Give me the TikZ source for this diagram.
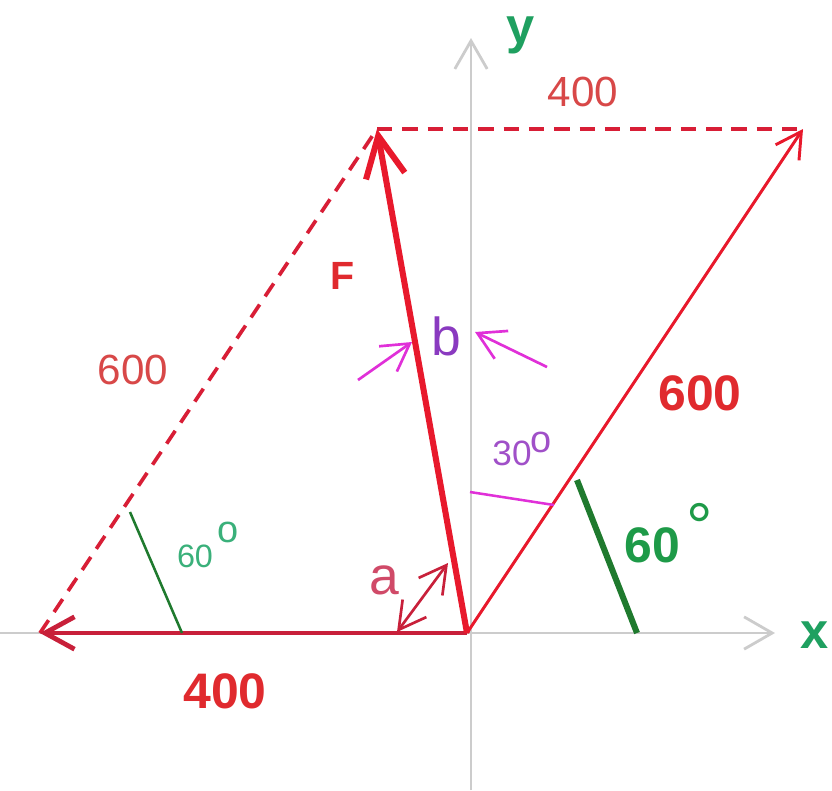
\documentclass[tikz,border=0pt]{standalone}
\usepackage{fontspec}
\setmainfont{Liberation Sans}
\usetikzlibrary{arrows.meta,positioning}
\definecolor{vecred}{HTML}{E8192C}
\definecolor{darkred}{HTML}{C8203A}
\definecolor{dashred}{HTML}{D81E36}
\definecolor{textred}{HTML}{E02A2E}
\definecolor{softred}{HTML}{D84848}
\definecolor{axisgray}{HTML}{CCCCCC}
\definecolor{axisgreen}{HTML}{1FA060}
\definecolor{lightgreen}{HTML}{3AB07A}
\definecolor{boldgreen}{HTML}{1E9A48}
\definecolor{markgreen}{HTML}{1F7A2E}
\definecolor{markmag}{HTML}{E030D8}
\definecolor{anglepurple}{HTML}{A050C8}
\definecolor{bpurple}{HTML}{8A3AC0}
\definecolor{arose}{HTML}{D04A68}
\tikzset{
  axis line/.style  = {-{Straight Barb[length=20pt,width=23pt]}, line width=2pt, axisgray},
  resultant/.style  = {-{Straight Barb[length=29pt,width=28pt]}, line width=4.3pt, vecred},
  force400/.style   = {-{Straight Barb[length=21pt,width=23pt]}, line width=3.4pt, darkred},
  force600/.style   = {-{Straight Barb[length=18pt,width=20pt]}, line width=2.1pt, vecred},
  guide/.style      = {line width=2.6pt, dashred, dash pattern=on 11pt off 7pt},
  thinmark/.style   = {line width=1.8pt, markgreen},
  thickmark/.style  = {line width=4.3pt, markgreen},
  anglemark/.style  = {line width=1.8pt, markmag},
  pointer/.style    = {-{Straight Barb[length=19pt,width=22pt]}, line width=1.9pt, markmag},
  dblpointer/.style = {{Straight Barb[length=19pt,width=21pt]}-{Straight Barb[length=19pt,width=21pt]}, line width=1.9pt, darkred},
  bignum/.style     = {font=\fontsize{35.5}{40}\selectfont\bfseries, textred},
  smallnum/.style   = {font=\fontsize{30}{34}\selectfont, softred},
  axislabel/.style  = {font=\fontsize{36}{40}\selectfont\bfseries, axisgreen},
}

\begin{document}
\begin{tikzpicture}[x=0.025cm,y=-0.025cm,every node/.style={inner sep=0pt}]
  \useasboundingbox (0,0) rectangle (832,790);

  % axes
  \coordinate (xstart) at (0,633);
  \coordinate (xend)   at (775,633);
  \coordinate (ystart) at (471,790);
  \coordinate (yend)   at (471,38);
  \draw[axis line] (xstart) -- (xend);
  \draw[axis line] (ystart) -- (yend);
  \node[axislabel] (xlbl) at (815,635) {x};
  \node[axislabel] (ylbl) at (521,35) {y};

  % forces and parallelogram
  \coordinate (O)  at (467,633);
  \coordinate (P4) at (40,633);
  \coordinate (P6) at (803,129);
  \coordinate (R)  at (377,129);
  \draw[guide] (P4) -- (R);
  \draw[guide] (R) -- (P6);
  \draw[force400] (O) -- (P4);
  \draw[force600] (O) -- (P6);
  \draw[resultant] (O) -- (R);

  \node[bignum] (n400) at (225,691) {400};
  \node[bignum] (n600) at (700,393) {600};
  \node[font=\fontsize{28}{32}\selectfont\bfseries, textred] (nF) at (343,276) {F};
  \node[smallnum] (d600) at (133,370) {600};
  \node[smallnum] (d400) at (583,92) {400};

  % 60 degree marks
  \coordinate (g1a) at (130,512);
  \coordinate (g1b) at (182,633);
  \draw[thinmark] (g1a) -- (g1b);
  \node[font=\fontsize{23}{26}\selectfont, lightgreen] (a60s) at (195,556) {60};
  \node[font=\fontsize{27}{30}\selectfont, lightgreen] (o60s) at (228,532) {o};
  \coordinate (g2a) at (577,480);
  \coordinate (g2b) at (637,633);
  \draw[thickmark] (g2a) -- (g2b);
  \node[font=\fontsize{35.5}{40}\selectfont\bfseries, boldgreen] (a60b) at (652,545) {60};
  \node[font=\fontsize{47}{50}\selectfont, boldgreen, anchor=north] (o60b) at (700,503) {°};

  % 30 degree mark
  \coordinate (m1) at (470,492);
  \coordinate (m2) at (554,505);
  \draw[anglemark] (m1) -- (m2);
  \node[font=\fontsize{25}{28}\selectfont, anglepurple] (a30) at (512,453) {30};
  \node[font=\fontsize{27}{30}\selectfont, anglepurple] (o30) at (541,442) {o};

  % angle b
  \coordinate (b1s) at (358,380);
  \coordinate (b1e) at (412,342);
  \coordinate (b2s) at (547,367);
  \coordinate (b2e) at (475,332);
  \draw[pointer] (b1s) -- (b1e);
  \draw[pointer] (b2s) -- (b2e);
  \node[font=\fontsize{38}{42}\selectfont, bpurple] (lb) at (446,336) {b};

  % angle a
  \coordinate (a1) at (397,632);
  \coordinate (a2) at (448,563);
  \draw[dblpointer] (a1) -- (a2);
  \node[font=\fontsize{38}{42}\selectfont, arose] (la) at (384,580) {a};
\end{tikzpicture}
\end{document}
